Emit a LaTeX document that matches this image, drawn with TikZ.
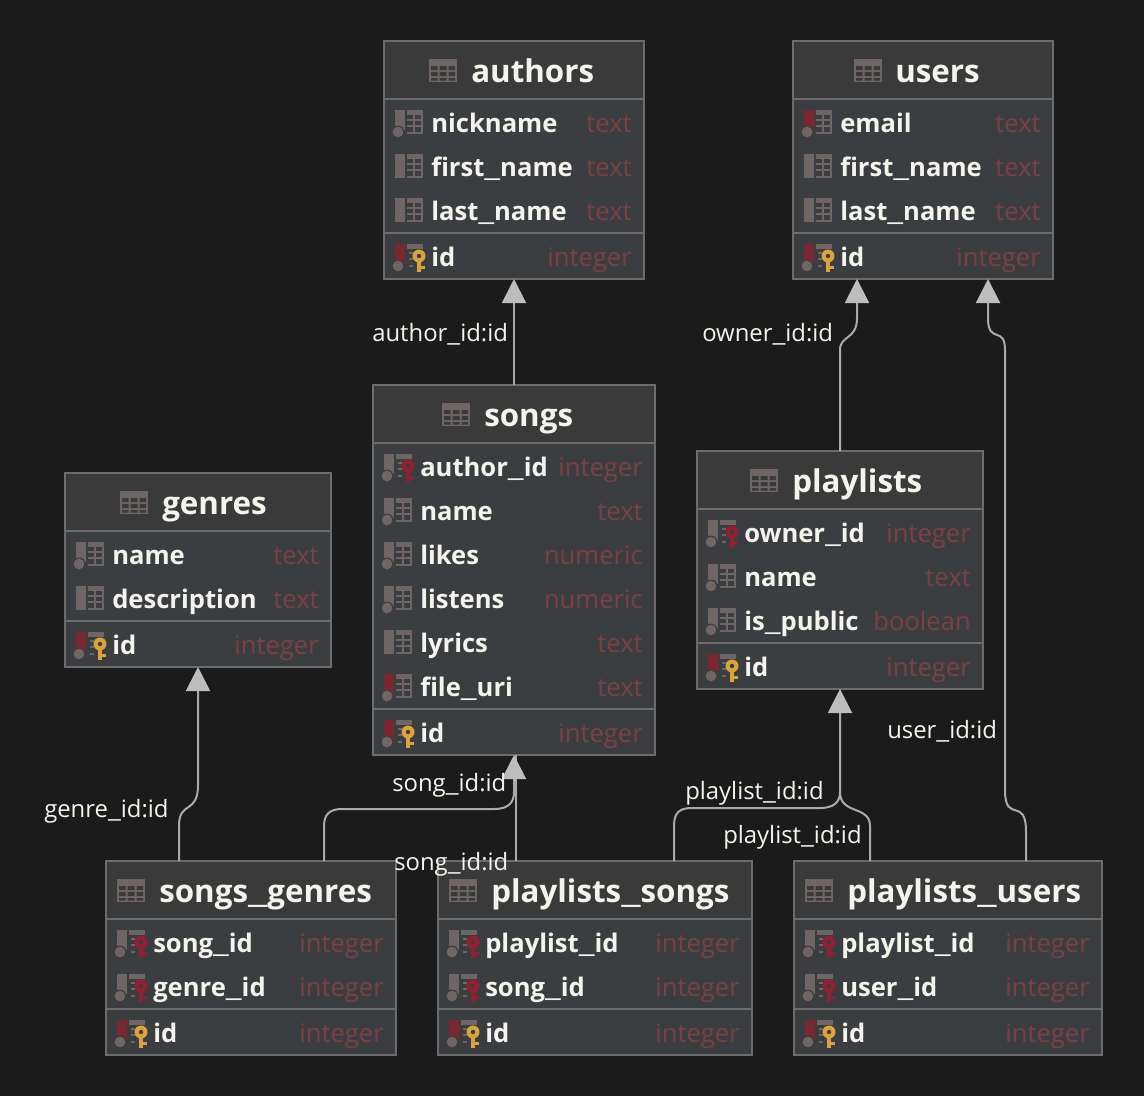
\documentclass[tikz,border=0pt]{standalone}
\usepackage{fontspec}
\setmainfont{Open Sans}
\usetikzlibrary{arrows.meta,fit}
\definecolor{bgc}{HTML}{1B1B1B}
\definecolor{headc}{HTML}{3B3A3A}
\definecolor{bodyc}{HTML}{3A3E41}
\definecolor{edgec}{HTML}{6C6C6C}
\definecolor{textc}{HTML}{F4F4EC}
\definecolor{typec}{HTML}{7C4043}
\definecolor{linkc}{HTML}{ABABAB}
\definecolor{tipc}{HTML}{BDBDBD}
\definecolor{iconc}{HTML}{6F6565}
\definecolor{redbar}{HTML}{7A2730}
\definecolor{redkey}{HTML}{93202F}
\definecolor{goldkey}{HTML}{DDA33B}
\newcommand{\us}{\scalebox{1.5}[1]{\_}}
\newcommand{\usl}{\scalebox{1.2}[1]{\_}}
\tikzset{
  x=0.75pt,y=-0.75pt,
  tblbox/.style={inner sep=0pt,outer sep=0pt,line width=1.1pt,draw=edgec},
  titletext/.style={anchor=base west,inner sep=0pt,text=textc,font=\fontsize{23.5}{23.5}\selectfont\bfseries},
  nametext/.style={anchor=base west,inner sep=0pt,text=textc,font=\fontsize{19.2}{19.2}\selectfont\bfseries},
  typetext/.style={anchor=base east,inner sep=0pt,text=typec,font=\fontsize{19.2}{19.2}\selectfont},
  linktext/.style={anchor=base west,inner sep=0pt,text=textc,font=\fontsize{17.9}{17.9}\selectfont},
  conn/.style={draw=linkc,line width=1.5pt},
  connto/.style={conn,-{Triangle[length=18pt,width=18pt,color=tipc]}},
}
% column icons: origin = left of bar, row centre
\newcommand{\gridfull}{%
  \fill[iconc] (12,-13) rectangle (28,-8);
  \fill[iconc] (18,-13) rectangle (20,11);
  \fill[iconc] (26,-13) rectangle (28,11);
  \fill[iconc] (12,-4) rectangle (28,-2);
  \fill[iconc] (12,2) rectangle (28,4);
  \fill[iconc] (12,9) rectangle (28,11);}
\newcommand{\gridstub}{%
  \fill[iconc] (12,-13) rectangle (28,-8);
  \fill[iconc] (14,-5) rectangle (18,-3);
  \fill[iconc] (14,1) rectangle (18,3);
  \fill[iconc] (14,8) rectangle (18,10);}
\newcommand{\dotmark}{\fill[bodyc] (3,9) circle (6.5);\fill[iconc] (3,9) circle (5.3);}
\newcommand{\keymark}[1]{%
  \fill[#1] (24,-1) circle (6.5);
  \fill[bodyc] (24,-1) circle (2.2);
  \fill[#1] (22,4) rectangle (26,15);
  \fill[#1] (26,9) rectangle (30,12);}
\newcommand{\iconp}[2]{\begin{scope}[shift={(#1,#2)}]\fill[iconc] (0,-13) rectangle (10,11);\gridfull\end{scope}}
\newcommand{\iconc}[2]{\begin{scope}[shift={(#1,#2)}]\fill[iconc] (0,-13) rectangle (10,7);\dotmark\gridfull\end{scope}}
\newcommand{\icone}[2]{\begin{scope}[shift={(#1,#2)}]\fill[redbar] (0,-13) rectangle (10,7);\dotmark\gridfull\end{scope}}
\newcommand{\iconf}[2]{\begin{scope}[shift={(#1,#2)}]\fill[iconc] (0,-13) rectangle (10,7);\dotmark\gridstub\keymark{redkey}\end{scope}}
\newcommand{\iconk}[2]{\begin{scope}[shift={(#1,#2)}]\fill[redbar] (0,-13) rectangle (10,7);\dotmark\gridstub\keymark{goldkey}\end{scope}}
% id, x1, y1, x2, y2, header bottom, separator, icon x, title x, title, rows
\newcommand{\dbtable}[9]{%
  \def\tid{#1}\def\xa{#2}\def\ya{#3}\def\xb{#4}\def\yb{#5}\def\hb{#6}\def\sepy{#7}\def\ix{#8}\def\tx{#9}\dbtablerest}
\newcommand{\dbtablerest}[2]{%
  \fill[bodyc] (\xa,\ya) rectangle (\xb,\yb);
  \fill[headc] (\xa,\ya) rectangle (\xb,\hb);
  \draw[edgec,line width=1.5pt] (\xa,\hb) -- (\xb,\hb);
  \draw[edgec,line width=1.5pt] (\xa,\sepy) -- (\xb,\sepy);
  \coordinate (\tid-nw) at (\xa,\ya);
  \coordinate (\tid-se) at (\xb,\yb);
  \node[tblbox,fit=(\tid-nw)(\tid-se)] (\tid) {};
  \pgfmathsetmacro{\hc}{\ya+18}
  \begin{scope}[shift={(\ix,\hc)}]
    \fill[iconc] (0,0) rectangle (28,23);
    \fill[headc] (2,7) rectangle (8.5,11) (10.5,7) rectangle (17.5,11) (19.5,7) rectangle (26,11);
    \fill[headc] (2,13) rectangle (8.5,17) (10.5,13) rectangle (17.5,17) (19.5,13) rectangle (26,17);
    \fill[headc] (2,19) rectangle (8.5,21.5) (10.5,19) rectangle (17.5,21.5) (19.5,19) rectangle (26,21.5);
  \end{scope}
  \pgfmathsetmacro{\ty}{\ya+41}
  \node[titletext] (\tid-title) at (\tx,\ty) {#1};
  \pgfmathsetmacro{\ixx}{\xa+11}
  \pgfmathsetmacro{\nx}{\xa+47}
  \pgfmathsetmacro{\tyx}{\xb-12}
  \foreach \ry/\ric/\rn/\rt in {#2}{
    \csname icon\ric\endcsname{\ixx}{\ry}
    \pgfmathsetmacro{\by}{\ry+9}
    \node[nametext] (\tid-n\ry) at (\nx,\by) {\rn};
    \node[typetext] (\tid-t\ry) at (\tyx,\by) {\rt};
  }
}
\begin{document}
\begin{tikzpicture}
\useasboundingbox (0,0) rectangle (1144,1096);
\fill[bgc] (0,0) rectangle (1144,1096);

\dbtable{authors}{384}{41}{644}{279}{99}{233}{429}{471}{authors}{123/c/nickname/text,167/p/first\us name/text,211/p/last\us name/text,257/k/id/integer}
\dbtable{users}{793}{41}{1053}{279}{99}{233}{854}{895}{users}{123/e/email/text,167/p/first\us name/text,211/p/last\us name/text,257/k/id/integer}
\dbtable{songs}{373}{385}{655}{755}{443}{709}{442}{484}{songs}{467/f/author\us id/integer,511/c/name/text,555/c/likes/numeric,599/c/listens/numeric,643/p/lyrics/text,687/e/file\us uri/text,733/k/id/integer}
\dbtable{genres}{65}{473}{331}{667}{531}{621}{120}{162}{genres}{555/c/name/text,599/p/description/text,645/k/id/integer}
\dbtable{playlists}{697}{451}{983}{689}{509}{643}{750}{792}{playlists}{533/f/owner\us id/integer,577/c/name/text,621/c/is\us public/boolean,667/k/id/integer}
\dbtable{songsgenres}{106}{861}{396}{1055}{919}{1009}{117}{159}{songs\us genres}{943/f/song\us id/integer,987/f/genre\us id/integer,1033/k/id/integer}
\dbtable{playlistssongs}{438}{861}{752}{1055}{919}{1009}{449}{491}{playlists\us songs}{943/f/playlist\us id/integer,987/f/song\us id/integer,1033/k/id/integer}
\dbtable{playlistsusers}{794}{861}{1102}{1055}{919}{1009}{805}{847}{playlists\us users}{943/f/playlist\us id/integer,987/f/user\us id/integer,1033/k/id/integer}

% connectors
\draw[connto] (songs.north) -- (authors.south);
\draw[connto] (playlists.north) -- (840,350) .. controls (840,335) and (857,340) .. (857,318) -- (users.south -| 857,0);
\draw[connto] (playlistsusers.north -| 1026,0) -- (1026,832) .. controls (1026,795) and (1005,825) .. (1005,790) -- (1005,350) .. controls (1005,325) and (988,345) .. (988,318) -- (users.south -| 988,0);
\draw[connto] (playlistssongs.north -| 674,0) -- (674,826) .. controls (674,812) and (680,808) .. (692,808) -- (820,808) .. controls (834,808) and (840,802) .. (840,792) -- (playlists.south);
\draw[conn] (playlistsusers.north -| 870,0) -- (870,826) .. controls (870,805) and (840,815) .. (840,792);
\draw[conn] (playlistssongs.north -| 515.5,0) -- (songs.south -| 515.5,0);
\draw[connto] (songsgenres.north -| 324,0) -- (324,826) .. controls (324,814) and (330,809) .. (342,809) -- (494,809) .. controls (508,809) and (514,803) .. (514,792) -- (songs.south);
\draw[connto] (songsgenres.north -| 179,0) -- (179,826) .. controls (179,800) and (198,815) .. (198,785) -- (genres.south -| 198,0);

% connector labels
\node[linktext] (lblauthor) at (372,341) {author\usl id:id};
\node[linktext] (lblowner) at (702,341) {owner\usl id:id};
\node[linktext] (lbluser) at (887,738) {user\usl id:id};
\node[linktext] (lblsonga) at (392,791) {song\usl id:id};
\node[linktext] (lblsongb) at (394,870) {song\usl id:id};
\node[linktext] (lblplaya) at (685,799) {playlist\usl id:id};
\node[linktext] (lblplayb) at (723,843) {playlist\usl id:id};
\node[linktext] (lblgenre) at (44,817) {genre\usl id:id};
\end{tikzpicture}
\end{document}
